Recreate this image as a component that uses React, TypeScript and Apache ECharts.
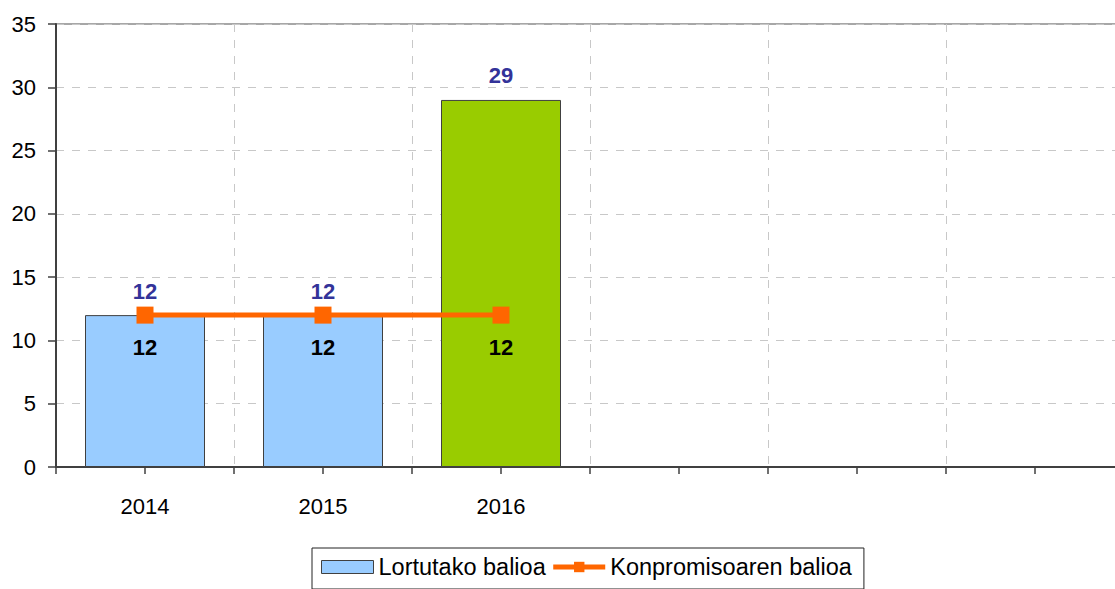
import React, { useEffect, useRef } from "react";
import * as echarts from "echarts";

const categories = ["2014", "2015", "2016", "", "", ""];
const tickSlots = ["a", "b", "c", "d", "e", "f", "g", "h", "i", "j", "k", "l"];
const achievedValues = [12, 12, 29];
const commitmentValues = [12, 12, 12];
const barColors = ["#99CCFF", "#99CCFF", "#99CC00"];
const seriesNames = ["Lortutako balioa", "Konpromisoaren balioa"];

const FONT = "'Liberation Sans', Arial, sans-serif";

export default function App() {
  const ref = useRef<HTMLDivElement>(null);
  useEffect(() => {
    if (!ref.current) return;
    const chart = echarts.init(ref.current, null, { renderer: "svg" });
    chart.setOption({
      animation: false,
      backgroundColor: "#ffffff",
      textStyle: { fontFamily: FONT },
      grid: {
        left: 56,
        right: 0,
        top: 24,
        bottom: 122,
        show: true,
        borderColor: "#8a8a8a",
        borderWidth: 1.5,
        containLabel: false,
      },
      legend: {
        left: 312,
        top: 548,
        orient: "horizontal",
        padding: [7, 12, 10, 9],
        borderColor: "#222",
        borderWidth: 1,
        itemGap: 5,
        itemWidth: 52,
        itemHeight: 13,
        textStyle: { fontSize: 23.5, color: "#000", fontFamily: FONT },
        data: [
          { name: seriesNames[0], icon: "rect", itemStyle: { borderColor: "#404040", borderWidth: 1 } },
          { name: seriesNames[1], lineStyle: { width: 5, color: "#FF6600" } },
        ],
      },
      xAxis: [
        {
          type: "category",
          data: categories,
          boundaryGap: true,
          axisLine: { show: true, lineStyle: { color: "#404040", width: 2 } },
          axisTick: { show: false },
          axisLabel: { fontSize: 22, color: "#000", margin: 28, interval: 0, fontFamily: FONT },
          splitLine: {
            show: true,
            interval: 0,
            lineStyle: { color: "#c8c8c8", type: [8, 8], width: 1 },
          },
        },
        {
          type: "category",
          data: tickSlots,
          position: "bottom",
          boundaryGap: true,
          axisLine: { show: false },
          axisLabel: { show: false },
          axisTick: { show: true, interval: 0, length: 7, lineStyle: { color: "#404040", width: 1.5 } },
          splitLine: { show: false },
        },
      ],
      yAxis: {
        type: "value",
        min: 0,
        max: 35,
        interval: 5,
        axisLine: { show: true, lineStyle: { color: "#404040", width: 2 } },
        axisTick: { show: true, length: 8, lineStyle: { color: "#404040", width: 1.5 } },
        axisLabel: { fontSize: 22, color: "#000", margin: 20, fontFamily: FONT },
        splitLine: { show: true, lineStyle: { color: "#c8c8c8", type: [8, 8], width: 1 } },
      },
      series: [
        {
          name: seriesNames[0],
          type: "bar",
          xAxisIndex: 0,
          barWidth: 120,
          itemStyle: { color: barColors[0], borderColor: "#404040", borderWidth: 1 },
          data: achievedValues.map((v, i) => ({
            value: v,
            itemStyle: { color: barColors[i], borderColor: "#404040", borderWidth: 1 },
          })),
          label: {
            show: true,
            position: "top",
            distance: 13,
            color: "#333399",
            fontWeight: "bold",
            fontSize: 22,
            fontFamily: FONT,
          },
          z: 2,
        },
        {
          name: seriesNames[1],
          type: "line",
          xAxisIndex: 0,
          data: commitmentValues,
          symbol: "rect",
          symbolSize: 17,
          itemStyle: { color: "#FF6600" },
          lineStyle: { color: "#FF6600", width: 5 },
          label: {
            show: true,
            position: "bottom",
            distance: 13,
            color: "#000",
            fontWeight: "bold",
            fontSize: 22,
            fontFamily: FONT,
          },
          z: 3,
        },
      ],
    });
    return () => chart.dispose();
  }, []);
  return (
    <div style={{ position: "fixed", left: 0, top: 0, width: 1115, height: 589, overflow: "hidden", background: "#fff" }}>
      <div ref={ref} style={{ width: 1124, height: 589 }} />
    </div>
  );
}
